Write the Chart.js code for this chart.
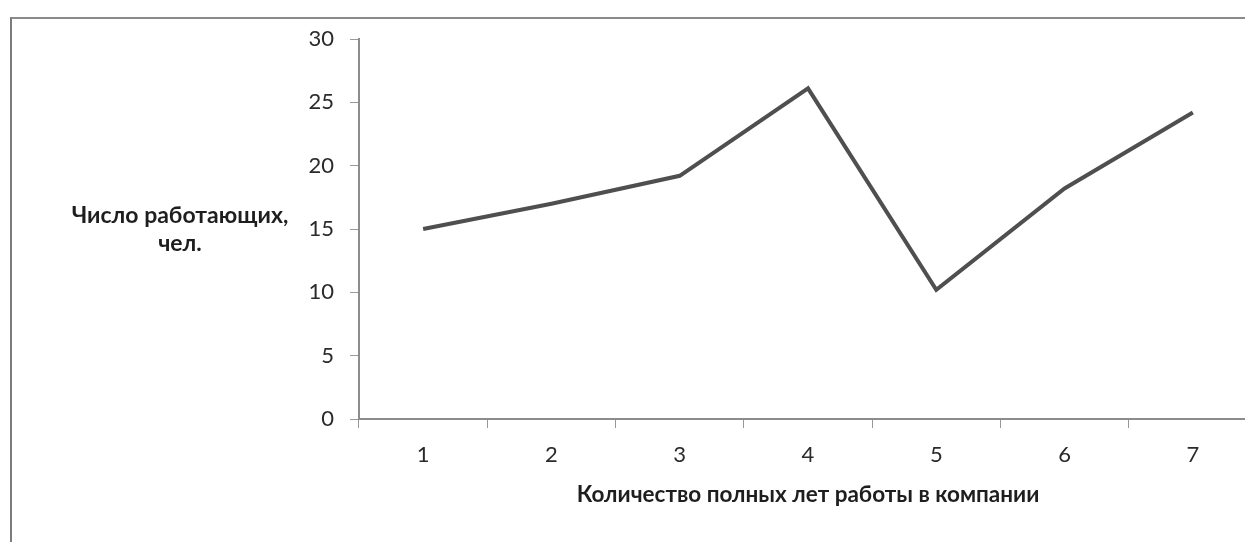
<!DOCTYPE html>
<html lang="ru">
<head>
    <meta charset="UTF-8">
    <title>Число работающих по стажу</title>
    <script src="https://cdn.jsdelivr.net/npm/chart.js"></script>
    <style>
        html, body { margin: 0; padding: 0; background: #fff; overflow: hidden; }
        body { width: 1245px; height: 542px; position: relative; }
        /* рамка диаграммы (правый край обрезан) */
        .frame {
            position: absolute; left: 10px; top: 17px; width: 1300px; height: 600px;
            border-left: 2px solid #7c7c7c; border-top: 2px solid #8a8a8a;
        }
        .chart-box { position: absolute; left: 0; top: 0; width: 1257px; height: 542px; }
        .y-title {
            position: absolute; left: 30px; top: 200px; width: 300px;
            text-align: center; font-family: Lato, "Open Sans", sans-serif;
            font-weight: bold; font-size: 23px; line-height: 28px; color: #1e1e1e;
        }
    </style>
</head>
<body>
    <div class="frame"></div>
    <div class="chart-box">
        <canvas id="staffChart" width="1257" height="542"></canvas>
    </div>
    <div class="y-title">Число работающих,<br>чел.</div>

    <script>
        // данные
        const years = ['1', '2', '3', '4', '5', '6', '7'];
        const workers = [15, 17, 19.2, 26.1, 10.2, 18.2, 24.2];
        const yTicks = [0, 5, 10, 15, 20, 25, 30];

        const fontFamily = 'Lato, "Open Sans", sans-serif';

        const ctx = document.getElementById('staffChart').getContext('2d');
        new Chart(ctx, {
            type: 'line',
            data: {
                labels: years,
                datasets: [{
                    data: workers,
                    borderColor: '#4f4f4f',
                    borderWidth: 4,
                    borderJoinStyle: 'miter',
                    pointRadius: 0,
                    tension: 0,
                    fill: false
                }]
            },
            options: {
                responsive: false,
                animation: false,
                layout: { padding: { top: 39, left: 0, right: 0, bottom: 0 } },
                plugins: {
                    legend: { display: false },
                    tooltip: { enabled: false }
                },
                scales: {
                    x: {
                        type: 'category',
                        offset: true,
                        afterFit(scale) { scale.height = 123; },
                        grid: {
                            offset: true,
                            drawOnChartArea: false,
                            tickLength: 9,
                            tickColor: '#9a9a9a'
                        },
                        border: { color: '#8c8c8c', width: 2 },
                        ticks: {
                            padding: 14,
                            color: '#2a2a2a',
                            font: { family: fontFamily, size: 22 }
                        },
                        title: {
                            display: true,
                            text: 'Количество полных лет работы в компании',
                            color: '#1e1e1e',
                            font: { family: fontFamily, size: 22.5, weight: 'bold' },
                            padding: { top: 0, bottom: 34 }
                        }
                    },
                    y: {
                        min: 0,
                        max: 30,
                        afterFit(scale) { scale.width = 359; },
                        afterBuildTicks(scale) { scale.ticks = yTicks.map(v => ({ value: v })); },
                        grid: {
                            drawOnChartArea: false,
                            tickLength: 9,
                            tickColor: '#9a9a9a'
                        },
                        border: { color: '#8c8c8c', width: 2 },
                        ticks: {
                            padding: 16,
                            color: '#2a2a2a',
                            font: { family: fontFamily, size: 22 }
                        }
                    }
                }
            }
        });
    </script>
</body>
</html>
